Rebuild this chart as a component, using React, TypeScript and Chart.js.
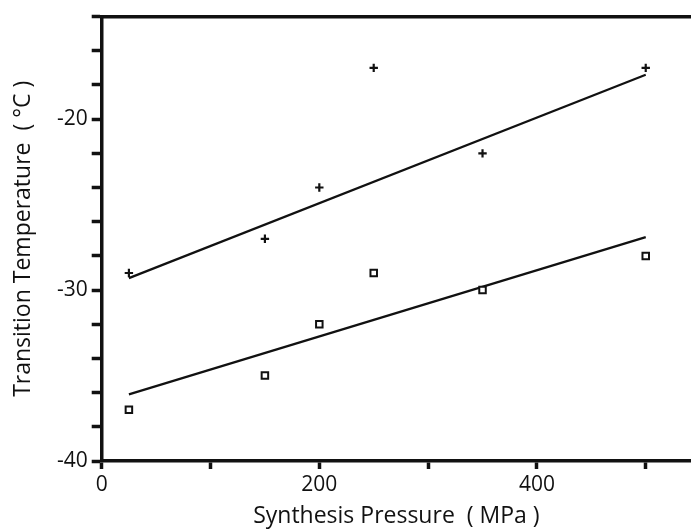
import React, { useEffect, useRef } from "react";
import { Chart, registerables } from "chart.js";

Chart.register(...registerables);

const pressureValues = [25, 150, 200, 250, 350, 500];
const plusSeries = [-29, -27, -24, -17, -22, -17];
const squareSeries = [-37, -35, -32, -29, -30, -28];
const fitPressure = [25, 500];
const plusFit = [-29.3, -17.4];
const squareFit = [-36.1, -26.9];
const xTickLabels = [0, 200, 400];
const yTickLabels = [-40, -30, -20];

const FONT = "'Open Sans', sans-serif";
const INK = "#111";

export default function App() {
  const ref = useRef<HTMLCanvasElement | null>(null);

  useEffect(() => {
    if (!ref.current) return;
    const pts = (xs: number[], ys: number[]) => xs.map((x, i) => ({ x, y: ys[i] }));
    const chart = new Chart(ref.current, {
      type: "scatter",
      data: {
        datasets: [
          {
            label: "plus",
            data: pts(pressureValues, plusSeries),
            pointStyle: "cross",
            pointRadius: 4.2,
            pointBorderWidth: 2.2,
            borderColor: INK,
            backgroundColor: INK,
            showLine: false,
          },
          {
            label: "square",
            data: pts(pressureValues, squareSeries),
            pointStyle: "rect",
            pointRadius: 4.6,
            pointBorderWidth: 2,
            borderColor: INK,
            backgroundColor: "#fff",
            showLine: false,
          },
          {
            label: "plusFit",
            data: pts(fitPressure, plusFit),
            showLine: true,
            pointRadius: 0,
            borderWidth: 2.2,
            borderColor: INK,
          },
          {
            label: "squareFit",
            data: pts(fitPressure, squareFit),
            showLine: true,
            pointRadius: 0,
            borderWidth: 2.2,
            borderColor: INK,
          },
        ],
      },
      options: {
        animation: false,
        responsive: false,
        layout: { autoPadding: false, padding: { left: 0, right: 0, top: 15, bottom: 0 } },
        plugins: { legend: { display: false }, tooltip: { enabled: false } },
        scales: {
          x: {
            type: "linear",
            position: "bottom",
            min: 0,
            max: 541.6,
            grid: { drawOnChartArea: false, drawTicks: true, tickLength: 8, tickWidth: 3.5, tickColor: INK },
            border: { display: true, width: 3.5, color: INK },
            ticks: {
              stepSize: 100,
              includeBounds: false,
              maxRotation: 0,
              autoSkip: false,
              padding: 3,
              color: INK,
              font: { family: FONT, size: 21 },
              callback: (v: any) => (xTickLabels.includes(Number(v)) ? String(v) : ""),
            },
            title: {
              display: true,
              text: "Synthesis Pressure  ( MPa )",
              color: INK,
              font: { family: FONT, size: 23 },
              padding: { top: 0, bottom: 0 },
            },
            afterFit: (s: any) => {
              s.height = 69;
            },
          },
          xTop: {
            type: "linear",
            position: "top",
            min: 0,
            max: 541.6,
            grid: { display: false, drawTicks: false },
            border: { display: true, width: 3.5, color: INK },
            ticks: { display: false },
            afterFit: (s: any) => {
              s.height = 0;
            },
          },
          y: {
            type: "linear",
            position: "left",
            min: -40,
            max: -14,
            grid: { drawOnChartArea: false, drawTicks: true, tickLength: 10, tickWidth: 3.5, tickColor: INK },
            border: { display: true, width: 3.5, color: INK },
            ticks: {
              stepSize: 2,
              includeBounds: false,
              autoSkip: false,
              padding: 4,
              color: INK,
              font: { family: FONT, size: 21 },
              callback: (v: any) => (yTickLabels.includes(Number(v)) ? String(v) : ""),
            },
            title: {
              display: true,
              text: "Transition Temperature  ( °C )",
              color: INK,
              font: { family: FONT, size: 23 },
              padding: { top: 10, bottom: 0 },
            },
            afterFit: (s: any) => {
              s.width = 101.7;
            },
          },
        },
      },
    });
    return () => chart.destroy();
  }, []);

  return (
    <div style={{ position: "fixed", left: 0, top: 0, width: 691, height: 530, background: "#fff" }}>
      <canvas ref={ref} width={691} height={530} style={{ display: "block", width: 691, height: 530 }} />
    </div>
  );
}
